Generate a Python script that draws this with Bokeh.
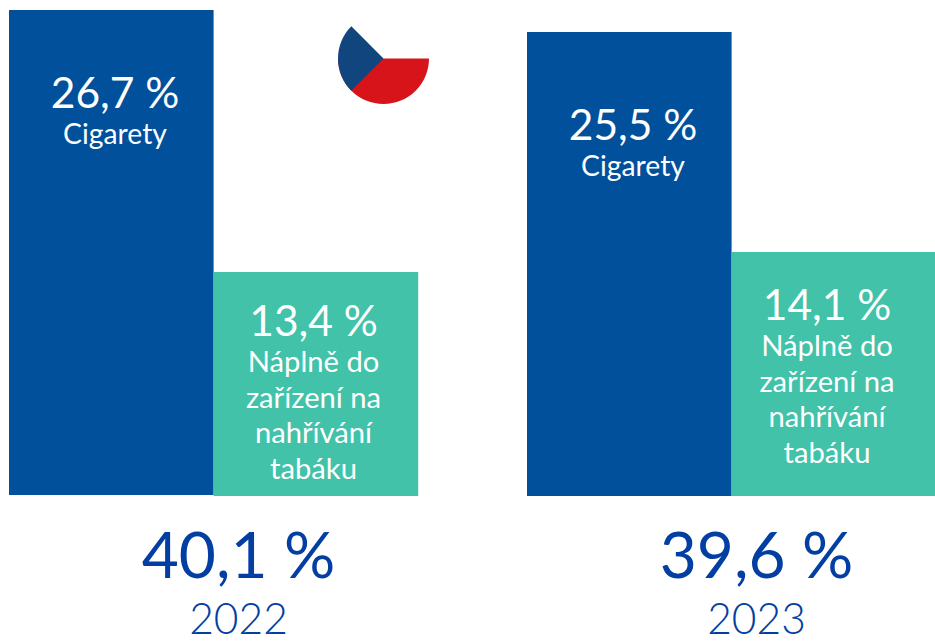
from bokeh.plotting import figure
from bokeh.embed import file_html
from bokeh.resources import INLINE
from bokeh.core.properties import value
import numpy as np

cig = [26.7, 25.5]
heat = [13.4, 14.1]
totals = ["40,1 %", "39,6 %"]
years = ["2022", "2023"]
cig_lab = ["26,7 %", "25,5 %"]
heat_lab = ["13,4 %", "14,1 %"]
heat_name = ["Náplně do", "zařízení na", "nahřívání", "tabáku"]
cig_name = "Cigarety"
BLUE = "#01509b"
TEAL = "#41c2a9"
NAVY = "#033fa3"
FONT = value("Lato")

W, H = 935, 642
p = figure(width=W, height=H, x_range=(0, W), y_range=(H, 0), output_backend="svg",
           toolbar_location=None, min_border=0, outline_line_color=None,
           background_fill_color="white", border_fill_color="white")
p.axis.visible = False
p.grid.visible = False

base_c = [494.5, 495.5]
base_h = [495.5, 495.5]
scale_c = [485 / 26.7, 464 / 25.5]
scale_h = [224 / 13.4, 244 / 14.1]
x0 = [8.5, 526.5]
bw = 204.6
for i in range(2):
    p.quad(left=x0[i], right=x0[i] + bw, bottom=base_c[i], top=base_c[i] - cig[i] * scale_c[i],
           fill_color=BLUE, line_color=None)
    p.quad(left=x0[i] + bw, right=x0[i] + 2 * bw, bottom=base_h[i], top=base_h[i] - heat[i] * scale_h[i],
           fill_color=TEAL, line_color=None)

def t(x, y, s, size, color="white", font=FONT):
    p.text([x], [y], text=[s], text_font=font, text_font_size=f"{size}px", text_color=color,
           text_align="center", text_baseline="middle")

cx = [114.5, 632.5]
cy = [91, 123]
for i in range(2):
    t(cx[i], cy[i], cig_lab[i], 42.5)
    t(cx[i], cy[i] + 41, cig_name, 28.3)
hx = [313, 826.5]
hy = [318.5, 302.5]
for i in range(2):
    t(hx[i], hy[i], heat_lab[i], 42.5)
    for j, s in enumerate(heat_name):
        t(hx[i], hy[i] + 41.5 + j * 35.5, s, 29.2)

tx = [238, 756]
for i in range(2):
    t(tx[i], 553, totals[i], 64, NAVY)
    t(tx[i], 618, years[i], 42.5, NAVY, value("Lato Light"))

# Flag
fx, fy, r = 383, 58, 45.5
p.wedge(x=[fx], y=[fy], radius=r, start_angle=[np.pi], end_angle=[2 * np.pi], fill_color="#d7141a",
        line_color=None, direction="anticlock")
p.wedge(x=[fx], y=[fy], radius=r, start_angle=[3 * np.pi / 4], end_angle=[5 * np.pi / 4], fill_color="#11457e",
        line_color=None, direction="anticlock")
open("out.html", "w").write(file_html(p, INLINE))
